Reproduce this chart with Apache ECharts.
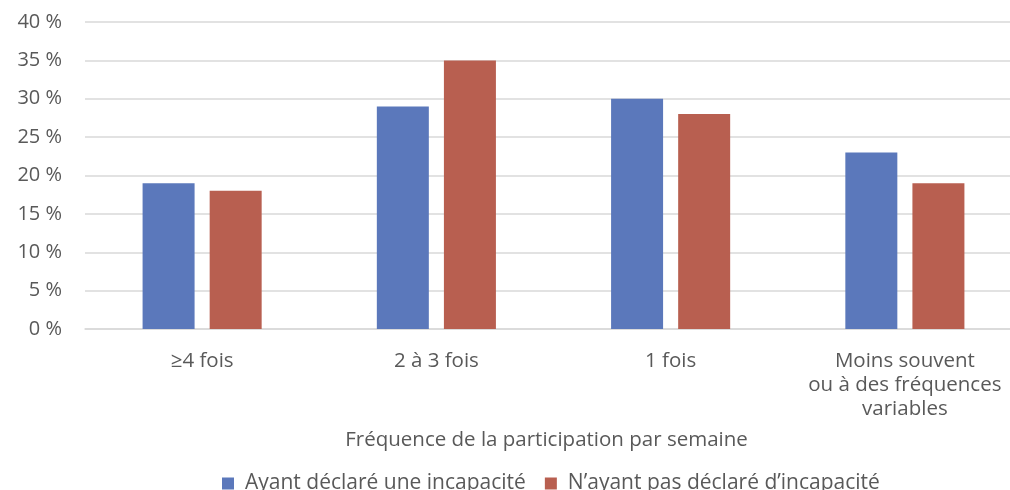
<!DOCTYPE html>
<html>
<head>
<meta charset="utf-8">
<script src="https://cdn.jsdelivr.net/npm/echarts@6/dist/echarts.min.js"></script>
<style>
  html, body { margin: 0; padding: 0; background: #fff; }
  #chart { width: 1010px; height: 490px; }
</style>
</head>
<body>
<div id="chart"></div>
<script>
// Participation frequency per week, by declared disability status (%)
const categories = ['≥4 fois', '2 à 3 fois', '1 fois', 'Moins souvent\nou à des fréquences\nvariables'];
const avecIncapacite = [19, 29, 30, 23];
const sansIncapacite = [18, 35, 28, 19];
const seriesNames = ['Ayant déclaré une incapacité', 'N’ayant pas déclaré d’incapacité'];
const axisTitle = 'Fréquence de la participation par semaine';

const font = '"Open Sans", Lato, sans-serif';
const textColor = '#595959';

const chart = echarts.init(document.getElementById('chart'));
chart.setOption({
  animation: false,
  textStyle: { fontFamily: font },
  grid: { left: 85, top: 22, width: 937, height: 307, containLabel: false, outerBoundsMode: 'none' },
  legend: {
    top: 468,
    left: 217,
    itemWidth: 12,
    itemHeight: 12,
    itemGap: 19,
    icon: 'rect',
    textStyle: { fontFamily: font, fontSize: 21, color: textColor, padding: [0, 0, 0, 6] }
  },
  xAxis: {
    type: 'category',
    data: categories,
    name: axisTitle,
    nameLocation: 'middle',
    nameGap: 101,
    nameTextStyle: { fontFamily: font, fontSize: 20.5, color: textColor, padding: [0, 14, 0, 0] },
    axisLine: { show: true, lineStyle: { color: '#d9d9d9', width: 1.5 } },
    axisTick: { show: false },
    axisLabel: { fontFamily: font, fontSize: 20.5, color: textColor, margin: 20, lineHeight: 24, interval: 0 }
  },
  yAxis: {
    type: 'value',
    min: 0,
    max: 40,
    interval: 5,
    axisLine: { show: false },
    axisTick: { show: false },
    splitLine: { lineStyle: { color: '#d9d9d9', width: 1.5 } },
    axisLabel: { fontFamily: font, fontSize: 20, color: textColor, margin: 23, formatter: '{value} %' }
  },
  series: [
    {
      name: seriesNames[0],
      type: 'bar',
      data: avecIncapacite,
      barWidth: 52,
      barGap: '29%',
      itemStyle: { color: '#5b78bb' }
    },
    {
      name: seriesNames[1],
      type: 'bar',
      data: sansIncapacite,
      barWidth: 52,
      itemStyle: { color: '#b85f50' }
    }
  ]
});
</script>
</body>
</html>
